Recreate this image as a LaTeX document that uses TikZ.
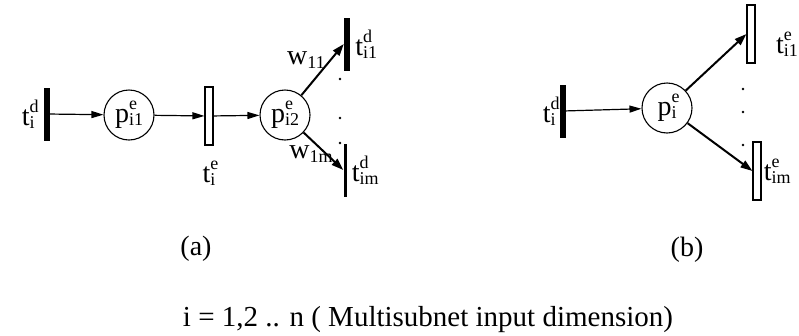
\documentclass[tikz,border=0pt]{standalone}
\usepackage{fontspec}
\setmainfont{Liberation Serif}
\usepackage{tikz}
\usetikzlibrary{arrows.meta,positioning}

\newcommand{\scr}{\fontsize{18}{18}\selectfont}
% base letter, subscript, superscript
\newcommand{\pnl}[3]{#1\rlap{\raisebox{13pt}{\scr #3}}\raisebox{-3pt}{\scr #2}}
\newcommand{\wlab}[1]{w\raisebox{-4pt}{\scr #1}}

\begin{document}
\begin{tikzpicture}[x=1pt, y=-1pt,
    lbl/.style={font=\fontsize{28}{32}\selectfont, inner sep=1pt},
    capt/.style={font=\fontsize{28}{32}\selectfont, inner sep=0pt},
    dtrans/.style={fill=black, minimum width=6pt, minimum height=53pt, inner sep=0pt},
    etrans/.style={draw, line width=1.1pt, fill=white, minimum width=8pt, minimum height=58pt, inner sep=0pt},
    place/.style={draw, circle, line width=1.1pt, minimum size=50pt, inner sep=0pt, lbl},
    arc/.style={line width=1.2pt, -{Triangle[length=12pt,width=7pt]}},
    darc/.style={line width=2pt, -{Triangle[length=12pt,width=8pt]}}]
  \useasboundingbox (0,0) rectangle (799,335);

  % (a)
  \node[dtrans] (tda) at (47,114) {};
  \node[lbl, left=8pt of tda] (ltda) {\pnl{t}{i}{d}};
  \node[place] (p1) at (129,115) {\pnl{p}{i1}{e}};
  \node[etrans] (tea) at (209,116) {};
  \node[lbl, below=14pt of tea] (ltea) {\pnl{t}{i}{e}};
  \node[place] (p2) at (285,115) {\pnl{p}{i2}{e}};
  \node[dtrans] (td1) at (347,44) {};
  \node[dtrans, minimum width=3pt] (tdm) at (345,170) {};
  \node[lbl, right=4pt of td1] (ltd1) {\pnl{t}{i1}{d}};
  \node[lbl, right=4pt of tdm] (ltdm) {\pnl{t}{im}{d}};
  \draw[arc] (tda) -- (p1);
  \draw[arc] (p1) -- (tea);
  \draw[arc] (tea) -- (p2);
  \draw[darc] (p2) -- (td1.west);
  \draw[darc] (p2) -- (tdm.west);
  \node[lbl] (w11) at (306,60) {\wlab{11}};
  \node[lbl] (w1m) at (311,154) {\wlab{1m}};
  \foreach \y in {79,118,143} \fill (340,\y) circle (1.3pt);
  \node[capt] (capa) at (196,249) {(a)};

  % (b)
  \node[dtrans] (tdb) at (563,111) {};
  \node[lbl, left=3pt of tdb] (ltdb) {\pnl{t}{i}{d}};
  \node[place] (pb) at (667,108) {\pnl{p}{i}{e}};
  \node[etrans] (te1) at (751,34) {};
  \node[etrans] (tem) at (757,171) {};
  \node[lbl] (lte1) at (787,44) {\pnl{t}{i1}{e}};
  \node[lbl, right=1pt of tem] (ltem) {\pnl{t}{im}{e}};
  \draw[arc] (tdb) -- (pb);
  \draw[darc] (pb) -- (te1.west);
  \draw[darc] (pb) -- (tem.west);
  \foreach \y in {89,112,145} \fill (743,\y) circle (1.3pt);
  \node[capt] (capb) at (687,250) {(b)};

  \node[capt, font=\fontsize{29}{33}\selectfont] (cap) at (428,320) {i = 1,2 .. n ( Multisubnet input dimension)};
\end{tikzpicture}
\end{document}
